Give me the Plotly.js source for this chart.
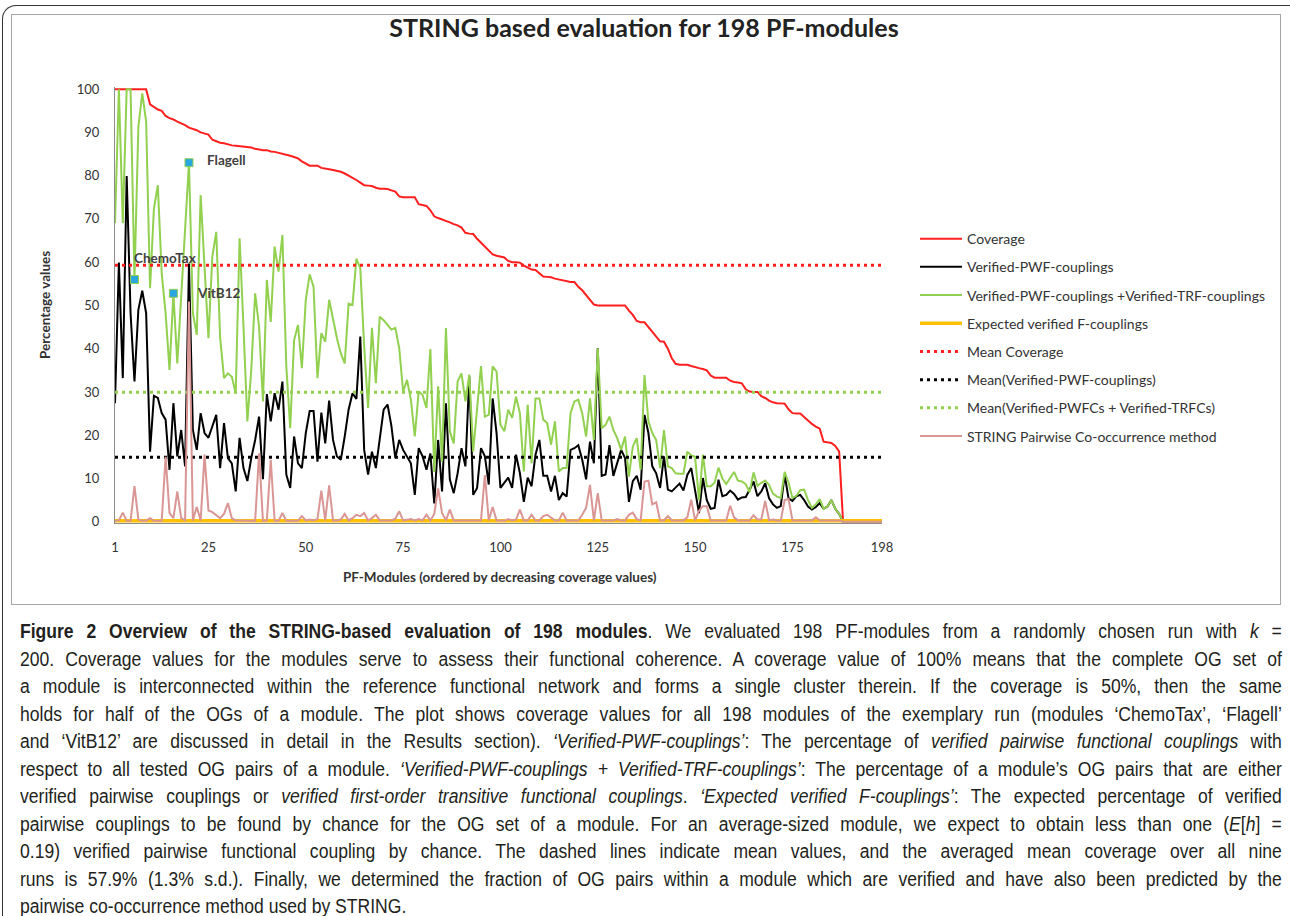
<!DOCTYPE html>
<html><head><meta charset="utf-8">
<script src="https://cdn.plot.ly/plotly-3.0.1.min.js"></script>
<style>
html,body{margin:0;padding:0;background:#fff;width:1290px;height:916px;overflow:hidden;position:relative;font-family:Lato,sans-serif}
#frame{position:absolute;left:2px;top:5px;width:1310px;height:940px;border-top:1.5px solid #333;border-left:1.5px solid #333;border-top-left-radius:14px;box-sizing:border-box}
#box{position:absolute;left:11px;top:14px;width:1270px;height:591px;border:1px solid #a6a6a6;box-sizing:border-box}
#chart{position:absolute;left:0;top:0;width:1290px;height:610px}
#caption{position:absolute;left:20px;top:618px;width:1402px;transform:scaleX(0.9);transform-origin:0 0;font-family:"Liberation Sans Narrow","Liberation Sans",sans-serif;font-size:19.5px;color:#231f20;line-height:27.5px}
#caption div{text-align:justify;text-align-last:justify;white-space:nowrap}
#caption div.last{text-align-last:left}
</style></head>
<body>
<div id="frame"></div>
<div id="box"></div>
<div id="chart"></div>
<div id="caption">
<div><b>Figure 2 Overview of the STRING-based evaluation of 198 modules</b>. We evaluated 198 PF-modules from a randomly chosen run with <i>k</i> =</div>
<div>200. Coverage values for the modules serve to assess their functional coherence. A coverage value of 100% means that the complete OG set of</div>
<div>a module is interconnected within the reference functional network and forms a single cluster therein. If the coverage is 50%, then the same</div>
<div>holds for half of the OGs of a module. The plot shows coverage values for all 198 modules of the exemplary run (modules ‘ChemoTax’, ‘Flagell’</div>
<div>and ‘VitB12’ are discussed in detail in the Results section). <i>‘Verified-PWF-couplings’</i>: The percentage of <i>verified pairwise functional couplings</i> with</div>
<div>respect to all tested OG pairs of a module. <i>‘Verified-PWF-couplings + Verified-TRF-couplings’</i>: The percentage of a module’s OG pairs that are either</div>
<div>verified pairwise couplings or <i>verified first-order transitive functional couplings</i>. <i>‘Expected verified F-couplings’</i>: The expected percentage of verified</div>
<div>pairwise couplings to be found by chance for the OG set of a module. For an average-sized module, we expect to obtain less than one (<i>E</i>[<i>h</i>] =</div>
<div>0.19) verified pairwise functional coupling by chance. The dashed lines indicate mean values, and the averaged mean coverage over all nine</div>
<div>runs is 57.9% (1.3% s.d.). Finally, we determined the fraction of OG pairs within a module which are verified and have also been predicted by the</div>
<div class="last">pairwise co-occurrence method used by STRING.</div>
</div>
<script>
const coverage = [100,100,100,100,100,100,100,100,100,96.5,
95.8,95.3,95.0,93.8,93.3,93.0,92.5,92.1,91.7,91.1,
90.8,90.5,90.0,89.8,89.5,88.3,87.9,87.6,87.5,87.2,
87.0,86.9,86.8,86.7,86.7,86.5,86.2,86.0,85.9,85.9,
85.6,85.5,85.3,85.0,84.8,84.6,84.3,84.0,83.3,82.8,
82.3,82.3,82.3,81.8,81.7,81.5,81.3,81.1,80.9,80.5,
80.0,79.6,79.0,78.4,77.8,77.7,77.6,77.2,77.0,77.0,
76.9,76.6,76.3,75.2,75.0,75.0,75.0,75.0,73.4,73.2,
73.0,72.0,70.6,70.2,69.9,69.5,69.2,68.8,68.5,68.0,
66.8,66.6,66.5,65.4,64.5,63.4,62.5,61.8,61.5,61.3,
61.1,60.3,60.0,60.0,59.9,59.2,58.7,58.3,58.2,57.5,
56.7,56.6,56.5,56.2,56.0,55.8,55.5,55.4,55.4,54.3,
53.5,52.4,51.5,50.2,50,50,50,50,50,50,
50,50,48.8,47.8,46.4,46.1,46.1,45.0,43.7,42.8,
41.7,41.6,40.0,37.8,36.5,36.3,36.3,36.3,36.0,35.7,
35.5,35.3,35.0,33.8,33.3,33.3,33.3,33.3,32.6,32.3,
32.2,32.0,30.6,30.1,30.0,30.0,29.0,28.6,28.0,27.6,
27.4,27.3,27.3,26.0,25.1,25.0,25.0,24.2,23.3,22.6,
22.0,21.5,18.5,18.3,18.2,17.5,16.2,0,0,0,
0,0,0,0,0,0,0,0];

const verifiedPWF = [27.4,59.9,33.2,79.9,48.2,32.4,49.0,53.4,48.2,16.2,
29.1,28.6,25.1,23.6,12.0,27.4,15.1,21.2,12.8,59.7,
21.2,16.6,25.1,20.5,19.4,22.1,24.7,12.4,22.8,14.7,
13.5,7.0,19.4,12.4,9.4,14.7,18.9,24.3,9.8,29.5,
23.2,29.7,25.9,32.4,10.9,7.8,19.7,13.5,12.4,20.5,
25.6,25.6,13.9,25.2,18.1,28.0,18.9,15.1,14.3,19.7,
25.9,29.7,28.4,42.8,16.6,10.9,16.2,12.4,19.4,25.9,
27.1,22.1,14.7,18.9,16.6,15.1,13.5,6.2,17.0,15.1,
12.0,15.8,4.2,18.9,7.0,27.4,9.8,6.6,11.2,17.0,
12.8,33.6,6.2,7.8,17.0,15.1,8.6,28.5,20.5,7.8,
9.0,10.2,7.8,15.5,11.2,4.6,10.2,8.2,15.5,18.9,
10.6,10.6,7.0,10.6,5.0,6.6,5.8,16.6,17.0,17.7,
14.3,9.8,18.5,13.5,40.1,10.6,10.9,17.7,10.6,13.5,
16.6,14.7,4.6,9.4,10.6,7.4,24.7,20.5,12.8,11.2,
7.8,15.1,7.4,7.0,8.0,8.8,7.2,10.8,12.4,7.5,
2.0,10.1,5.0,3.0,3.2,9.7,5.9,6.2,7.2,6.4,
5.1,5.6,5.7,7.4,9.3,5.9,7.0,8.9,5.4,4.0,
3.2,3.6,10.8,5.4,4.8,5.9,6.2,5.0,3.5,2.8,
3.4,4.3,3.0,3.5,5.0,3.0,1.8,0,0,0,
0,0,0,0,0,0,0,0];

const verifiedPWFandTRF = [69,100,69,100,100,56,91.3,99,92.5,54,
72.4,77.8,57.4,48.2,35.1,52.8,36.6,52,67.5,83,
48.2,43.2,75.5,60,42.4,61.3,67.0,42.6,33.2,34.3,
33.5,29.7,65.5,45.1,23.2,35.1,52.8,45.1,27.8,55.9,
46.2,63.6,57.8,66.3,35.9,21.6,42.0,45.5,35.5,51.3,
57.2,54.3,33.2,43.6,41.6,51.3,46.7,42.4,38.9,36.6,
50.4,50.1,60.8,58.6,40.5,26.3,44.8,32.0,47.4,46.6,
45.5,44.4,44.8,40.1,30.1,32.8,28.2,19.7,30.1,29.3,
26.3,39.9,11.5,31.3,13.9,44.8,20.9,18.1,32.4,34.3,
27.8,34.0,16.2,25.9,36.0,24.3,24.7,35.9,34.7,22.4,
20.9,25.9,24.0,28.9,25.1,11.6,27.0,13.5,28.5,28.5,
23.6,22.8,17.8,23.2,11.6,12.4,12.4,25.1,27.8,28.2,
25.1,19.7,28.5,18.9,40.1,21.6,22.4,24.3,21.2,19.3,
16.6,19.7,10.4,17.4,19.3,12.0,33.9,23.2,20.5,18.9,
12.4,21.2,12.8,12.4,11.2,11.1,11.1,16.2,15.3,15.0,
5.0,15.5,8.2,8.2,9.0,12.5,10.0,8.7,10.0,11.5,
9.5,9.3,8.7,6.8,11.4,8.3,9.0,9.5,8.5,6.5,
5.8,5.5,11.5,9.0,5.5,6.0,7.3,7.4,5.0,3.2,
4.0,5.2,3.0,3.5,5.0,3.0,1.8,0,0,0,
0,0,0,0,0,0,0,0];

const expectedF = [0.2,0.2,0.2,0.2,0.2,0.2,0.2,0.2,0.2,0.2,
0.2,0.2,0.2,0.2,0.2,0.2,0.2,0.2,0.2,0.2,
0.2,0.2,0.2,0.2,0.2,0.2,0.2,0.2,0.2,0.2,
0.2,0.2,0.2,0.2,0.2,0.2,0.2,0.2,0.2,0.2,
0.2,0.2,0.2,0.2,0.2,0.2,0.2,0.2,0.2,0.2,
0.2,0.2,0.2,0.2,0.2,0.2,0.2,0.2,0.2,0.2,
0.2,0.2,0.2,0.2,0.2,0.2,0.2,0.2,0.2,0.2,
0.2,0.2,0.2,0.2,0.2,0.2,0.2,0.2,0.2,0.2,
0.2,0.2,0.2,0.2,0.2,0.2,0.2,0.2,0.2,0.2,
0.2,0.2,0.2,0.2,0.2,0.2,0.2,0.2,0.2,0.2,
0.2,0.2,0.2,0.2,0.2,0.2,0.2,0.2,0.2,0.2,
0.2,0.2,0.2,0.2,0.2,0.2,0.2,0.2,0.2,0.2,
0.2,0.2,0.2,0.2,0.2,0.2,0.2,0.2,0.2,0.2,
0.2,0.2,0.2,0.2,0.2,0.2,0.2,0.2,0.2,0.2,
0.2,0.2,0.2,0.2,0.2,0.2,0.2,0.2,0.2,0.2,
0.2,0.2,0.2,0.2,0.2,0.2,0.2,0.2,0.2,0.2,
0.2,0.2,0.2,0.2,0.2,0.2,0.2,0.2,0.2,0.2,
0.2,0.2,0.2,0.2,0.2,0.2,0.2,0.2,0.2,0.2,
0.2,0.2,0.2,0.2,0.2,0.2,0.2,0.2,0.2,0.2,
0.2,0.2,0.2,0.2,0.2,0.2,0.2,0.2];

const stringCoOccurrence = [0.2,0.3,2.1,0.2,0.2,8.2,0.5,0.2,0.2,0.8,
0.2,0.2,0.2,15.0,2.0,0.8,7.0,0.8,0.3,50.9,
0.3,3.4,0.3,15.5,2.6,2.2,1.5,0.8,1.8,4.3,
0.8,0.3,0.3,0.2,0.2,0.2,0.2,15.8,0.2,0.3,
14.3,0.2,0.2,2.0,0.2,0.2,0.2,0.2,1.3,0.3,
0.5,0.3,0.6,7.2,0.3,8.4,0.3,0.3,0.5,1.8,
0.3,0.8,1.6,1.3,2.0,0.3,0.8,1.6,0.3,0.3,
0.3,0.3,0.7,2.4,0.3,0.4,0.6,0.3,0.6,0.3,
1.6,0.3,1.8,7.7,2.0,0.3,2.8,0.3,0.3,0.3,
0.3,0.3,0.3,0.3,0.3,10.8,0.3,3.4,0.3,0.3,
0.2,0.6,0.3,0.5,2.8,0.3,0.3,1.6,0.3,0.3,
1.3,1.6,0.9,0.3,0.3,2.1,0.3,0.3,0.3,0.3,
1.6,3.2,8.5,0.3,6.6,0.3,0.3,0.3,0.3,0.6,
0.3,0.3,1.6,2.1,0.6,0.3,9.3,9.5,4.0,4.5,
0.3,0.3,1.3,0.3,0.3,0.3,0.3,1.0,5.1,0.3,
2.5,3.6,3.6,0.3,0.3,0.3,0.3,0.3,3.7,1.0,
0.3,0.3,0.3,0.3,1.5,0.5,0.5,4.8,0.3,0.5,
0.3,0.3,5.0,5.3,0.3,0.3,0.3,0.3,0.3,0.3,
1.0,0.3,0.3,0.3,0.3,0.3,0.3,0,0,0,
0,0,0,0,0,0,0,0];

const meanCoverage = 59.3;
const meanPWF = 14.9;
const meanPWFandTRF = 29.9;

const namedModules = [6, 16, 20];
const namedValues = [56, 52.8, 83];
const namedLabels = ['ChemoTax', 'VitB12', 'Flagell'];

const xTickVals = [1, 25, 50, 75, 100, 125, 150, 175, 198];

const modules = [];
for (let i = 1; i <= coverage.length; i++) modules.push(i);

const FONT = 'Lato, "Open Sans", sans-serif';
const RED = '#FF1F1F', GREEN = '#92D050', PINK = '#D99694', ORANGE = '#FFC000';
const dotted = '3px,4px';

function series(name, y, color, width, group) {
  return {type: 'scatter', mode: 'lines', name: name, x: modules, y: y,
    line: {color: color, width: width}, legendgroup: group, hoverinfo: 'skip'};
}
function meanLine(name, value, color, group) {
  return {type: 'scatter', mode: 'lines', name: name,
    x: [modules[0], modules[modules.length - 1]], y: [value, value],
    line: {color: color, width: 3, dash: dotted}, legendgroup: group, hoverinfo: 'skip'};
}

const traces = [
  series('Coverage', coverage, RED, 2, 'g1'),
  series('Verified-PWF-couplings', verifiedPWF, '#000000', 2, 'g2'),
  series('Verified-PWF-couplings +Verified-TRF-couplings', verifiedPWFandTRF, GREEN, 2, 'g3'),
  series('Expected verified F-couplings', expectedF, ORANGE, 3.5, 'g4'),
  meanLine('Mean Coverage', meanCoverage, RED, 'g5'),
  meanLine('Mean(Verified-PWF-couplings)', meanPWF, '#000000', 'g6'),
  meanLine('Mean(Verified-PWFCs + Verified-TRFCs)', meanPWFandTRF, GREEN, 'g7'),
  series('STRING Pairwise Co-occurrence method', stringCoOccurrence, PINK, 2, 'g8'),
  {type: 'scatter', mode: 'markers', x: namedModules, y: namedValues, showlegend: false, legendgroup: 'g9',
   marker: {symbol: 'square', size: 8, color: '#2AA7DE', line: {color: GREEN, width: 1}}, hoverinfo: 'skip'}
];

const annotations = [
  {xref: 'paper', yref: 'paper', x: -0.0913, y: 0.5, xanchor: 'center', yanchor: 'middle', text: '<b>Percentage values</b>', showarrow: false, textangle: -90,
   font: {family: FONT, size: 13.5, color: '#333'}},
  {xref: 'paper', yref: 'paper', x: 0.502, y: -0.124, xanchor: 'center', yanchor: 'middle', text: '<b>PF-Modules (ordered by decreasing coverage values)</b>', showarrow: false,
   font: {family: FONT, size: 13.5, color: '#333'}},
  {xref: 'x', yref: 'y', x: 199.6, y: 62.1, xanchor: 'right', text: '<b>' + meanCoverage.toFixed(1) + '%</b>', showarrow: false,
   font: {family: FONT, size: 17, color: RED}},
  {xref: 'x', yref: 'y', x: 199.6, y: 31.8, xanchor: 'right', text: '<b>' + meanPWFandTRF.toFixed(1) + '%</b>', showarrow: false,
   font: {family: FONT, size: 17, color: GREEN}},
  {xref: 'x', yref: 'y', x: 199.6, y: 17.3, xanchor: 'right', text: '<b>' + meanPWF.toFixed(1) + '%</b>', showarrow: false,
   font: {family: FONT, size: 17, color: '#262626'}},
  {xref: 'x', yref: 'y', x: 5.4, y: 60.9, xanchor: 'left', text: '<b>' + namedLabels[0] + '</b>', showarrow: false,
   font: {family: FONT, size: 13.5, color: '#404040'}},
  {xref: 'x', yref: 'y', x: 21.5, y: 52.8, xanchor: 'left', text: '<b>' + namedLabels[1] + '</b>', showarrow: false,
   font: {family: FONT, size: 13.5, color: '#404040'}},
  {xref: 'x', yref: 'y', x: 24.1, y: 83.6, xanchor: 'left', text: '<b>' + namedLabels[2] + '</b>', showarrow: false,
   font: {family: FONT, size: 13.5, color: '#404040'}}
];

const layout = {
  width: 1290, height: 610,
  margin: {l: 115, r: 408, t: 87, b: 87},
  paper_bgcolor: 'rgba(0,0,0,0)', plot_bgcolor: 'rgba(0,0,0,0)',
  title: {text: '<b>STRING based evaluation for 198 PF-modules</b>', xref: 'container', yref: 'container',
    x: 644 / 1290, xanchor: 'center', y: 1 - 28 / 610, yanchor: 'middle',
    font: {family: FONT, size: 25, color: '#222'}},
  xaxis: {range: [1, 198], tickvals: xTickVals, ticktext: xTickVals.map(String),
    showline: true, linecolor: '#8c8c8c', linewidth: 1, showgrid: false, zeroline: false,
    ticks: 'outside', ticklen: 12, tickcolor: 'rgba(0,0,0,0)',
    tickfont: {family: FONT, size: 13, color: '#333'}},
  yaxis: {range: [-0.3, 100.5], tick0: 0, dtick: 10,
    showline: true, linecolor: '#8c8c8c', linewidth: 1, showgrid: false, zeroline: false,
    ticks: 'outside', ticklen: 12, tickcolor: 'rgba(0,0,0,0)',
    tickfont: {family: FONT, size: 13, color: '#333'}},
  legend: {x: 1.043, xanchor: 'left', y: 0.688, yanchor: 'top', traceorder: 'grouped',
    font: {family: FONT, size: 14, color: '#333'}, tracegroupgap: 7, itemwidth: 42,
    bgcolor: 'rgba(0,0,0,0)'},
  annotations: annotations,
  showlegend: true
};

Plotly.newPlot('chart', traces, layout, {displayModeBar: false, staticPlot: true});
</script>
</body></html>
